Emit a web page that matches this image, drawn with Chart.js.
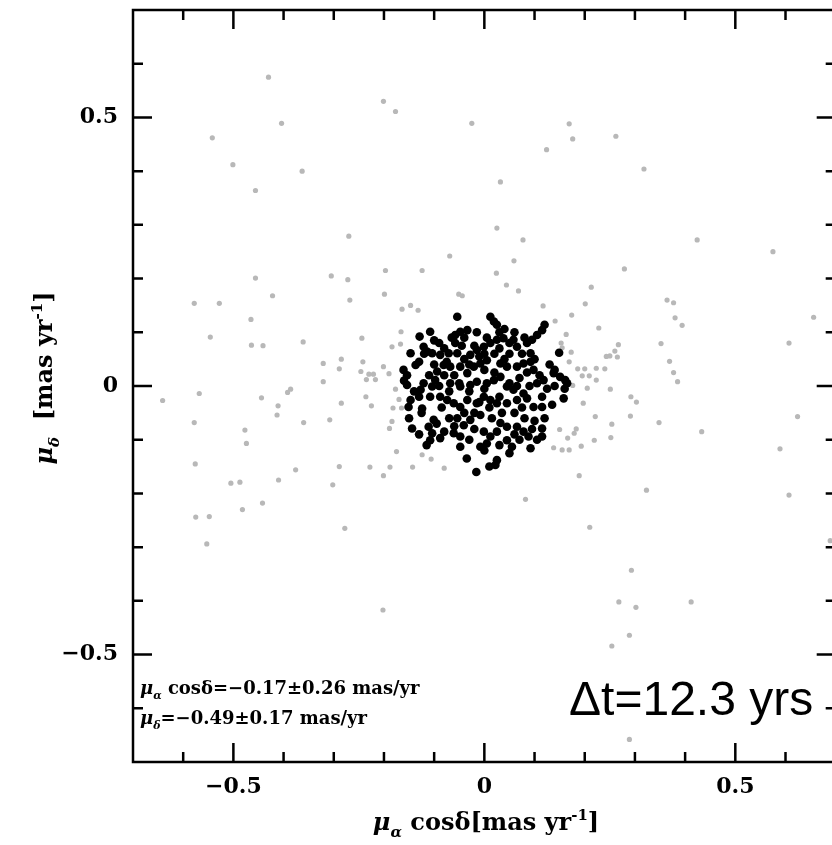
<!DOCTYPE html>
<html>
<head>
<meta charset="utf-8">
<script src="https://cdn.jsdelivr.net/npm/chart.js@4.4.1/dist/chart.umd.min.js"></script>
<style>
  html, body { margin: 0; padding: 0; background: #fff; overflow: hidden; }
  canvas { display: block; }
</style>
</head>
<body>
<canvas id="pmChart" width="840" height="845"></canvas>
<script>
// field stars (grey) - [mu_a cos(d), mu_d] in mas/yr
const fieldStars = [
  [-0.430, 0.575], [-0.201, 0.530], [-0.177, 0.511], [-0.025, 0.489], [-0.404, 0.489],
  [-0.542, 0.462], [-0.501, 0.412], [-0.363, 0.400], [-0.456, 0.364], [0.169, 0.488],
  [0.176, 0.460], [0.262, 0.465], [0.124, 0.440], [0.318, 0.404], [0.032, 0.380],
  [-0.270, 0.279], [-0.069, 0.242], [-0.197, 0.215], [-0.124, 0.215], [-0.456, 0.201],
  [-0.305, 0.205], [-0.272, 0.198], [-0.422, 0.168], [-0.268, 0.160], [-0.199, 0.171],
  [-0.051, 0.171], [-0.044, 0.168], [-0.578, 0.154], [-0.528, 0.154], [-0.465, 0.124],
  [-0.164, 0.143], [-0.147, 0.150], [-0.132, 0.141], [-0.546, 0.091], [-0.464, 0.076],
  [-0.441, 0.075], [-0.361, 0.082], [-0.244, 0.089], [-0.166, 0.101], [-0.167, 0.078],
  [-0.184, 0.073], [-0.321, 0.042], [-0.285, 0.050], [-0.289, 0.032], [-0.242, 0.045],
  [-0.201, 0.036], [-0.246, 0.027], [-0.230, 0.022], [-0.221, 0.022], [-0.235, 0.012],
  [-0.217, 0.012], [-0.190, 0.023], [-0.321, 0.008], [-0.386, -0.006], [-0.177, -0.006],
  [0.025, 0.294], [0.077, 0.272], [0.059, 0.233], [0.024, 0.210], [0.044, 0.188],
  [0.068, 0.177], [0.117, 0.149], [0.279, 0.218], [0.213, 0.184], [0.201, 0.153],
  [0.424, 0.272], [0.575, 0.250], [0.141, 0.121], [0.174, 0.132], [0.228, 0.108],
  [0.163, 0.096], [0.153, 0.080], [0.155, 0.071], [0.173, 0.063], [0.169, 0.045],
  [0.267, 0.077], [0.260, 0.065], [0.265, 0.054], [0.243, 0.055], [0.250, 0.056],
  [0.364, 0.160], [0.377, 0.155], [0.380, 0.127], [0.394, 0.113], [0.352, 0.079],
  [0.369, 0.046], [0.377, 0.025], [0.385, 0.008], [0.186, 0.032], [0.200, 0.032],
  [0.223, 0.033], [0.240, 0.032], [0.195, 0.019], [0.209, 0.019], [0.223, 0.011],
  [0.176, 0.001], [0.205, -0.004], [0.251, -0.006], [0.656, 0.128], [0.607, 0.080],
  [-0.641, -0.027], [-0.568, -0.014], [-0.444, -0.022], [-0.392, -0.012], [-0.411, -0.037],
  [-0.413, -0.054], [-0.236, -0.020], [-0.225, -0.037], [-0.285, -0.032], [-0.578, -0.068],
  [-0.477, -0.082], [-0.474, -0.107], [-0.360, -0.068], [-0.308, -0.063], [-0.170, -0.025],
  [-0.182, -0.041], [-0.165, -0.041], [-0.184, -0.066], [-0.189, -0.079], [-0.175, -0.122],
  [-0.124, -0.128], [-0.106, -0.136], [-0.080, -0.153], [-0.143, -0.151], [-0.188, -0.151],
  [-0.228, -0.151], [-0.289, -0.150], [-0.201, -0.167], [-0.376, -0.156], [-0.410, -0.175],
  [-0.505, -0.181], [-0.487, -0.179], [-0.576, -0.145], [-0.302, -0.184], [-0.442, -0.218],
  [-0.482, -0.230], [-0.575, -0.244], [-0.548, -0.243], [-0.553, -0.294], [-0.278, -0.265],
  [0.292, -0.020], [0.303, -0.030], [0.197, -0.032], [0.221, -0.057], [0.254, -0.071],
  [0.291, -0.056], [0.348, -0.068], [0.433, -0.085], [0.624, -0.057], [0.150, -0.081],
  [0.183, -0.080], [0.179, -0.088], [0.166, -0.097], [0.219, -0.101], [0.252, -0.096],
  [0.138, -0.115], [0.155, -0.119], [0.169, -0.119], [0.193, -0.112], [0.189, -0.167],
  [0.082, -0.211], [0.323, -0.194], [0.210, -0.263], [0.293, -0.343], [0.589, -0.117],
  [0.607, -0.203], [0.689, -0.288], [-0.202, -0.417], [0.268, -0.402], [0.302, -0.412],
  [0.412, -0.402], [0.289, -0.464], [0.254, -0.484], [0.289, -0.658]
];

// cluster members (black)
const clusterStars = [
  [-0.054, 0.129], [0.012, 0.129], [0.019, 0.120], [0.025, 0.114], [0.040, 0.106],
  [0.120, 0.114], [0.115, 0.104], [0.105, 0.095], [0.095, 0.086], [0.085, 0.080],
  [-0.108, 0.101], [-0.129, 0.092], [-0.058, 0.095], [-0.048, 0.101], [-0.034, 0.104],
  [-0.058, 0.080], [-0.121, 0.073], [-0.114, 0.064], [-0.104, 0.061], [-0.147, 0.061],
  [-0.088, 0.058], [-0.071, 0.061], [-0.054, 0.061], [-0.028, 0.058], [-0.015, 0.067],
  [-0.001, 0.073], [0.012, 0.080], [0.025, 0.086], [0.038, 0.089], [0.058, 0.086],
  [0.065, 0.073], [0.092, 0.061], [0.149, 0.062], [-0.161, 0.030], [-0.154, 0.020],
  [-0.137, 0.039], [-0.081, 0.039], [-0.068, 0.036], [-0.094, 0.027], [-0.098, 0.011],
  [-0.104, -0.001], [-0.121, 0.005], [-0.127, -0.007], [-0.154, 0.002], [-0.048, 0.036],
  [-0.034, 0.024], [-0.021, 0.036], [-0.008, 0.042], [0.005, 0.048], [0.032, 0.042],
  [0.045, 0.036], [0.065, 0.036], [0.078, 0.042], [0.092, 0.045], [0.098, 0.030],
  [0.138, 0.024], [0.151, 0.017], [0.161, 0.011], [0.118, 0.011], [-0.068, 0.005],
  [-0.048, -0.001], [-0.028, 0.002], [-0.015, 0.008], [0.005, 0.005], [0.019, 0.011],
  [0.032, 0.017], [0.045, -0.001], [0.058, -0.007], [0.078, -0.014], [0.085, -0.023],
  [0.115, -0.020], [0.158, -0.023], [-0.147, -0.026], [-0.151, -0.039], [-0.124, -0.042],
  [-0.108, -0.020], [-0.088, -0.020], [-0.074, -0.026], [-0.061, -0.032], [-0.048, -0.039],
  [-0.034, -0.026], [-0.015, -0.032], [-0.001, -0.020], [0.012, -0.026], [0.025, -0.032],
  [0.045, -0.032], [0.065, -0.026], [0.098, -0.039], [0.115, -0.039], [-0.101, -0.063],
  [-0.111, -0.076], [-0.104, -0.088], [-0.108, -0.101], [-0.144, -0.079], [-0.088, -0.097],
  [-0.054, -0.060], [-0.041, -0.073], [-0.028, -0.063], [-0.061, -0.088], [-0.048, -0.094],
  [-0.008, -0.054], [-0.001, -0.085], [0.012, -0.094], [0.025, -0.085], [0.032, -0.069],
  [0.045, -0.076], [0.065, -0.076], [0.078, -0.085], [0.088, -0.094], [0.115, -0.079],
  [0.115, -0.094], [-0.048, -0.113], [-0.008, -0.113], [0.005, -0.107], [0.045, -0.101],
  [0.055, -0.113], [0.092, -0.116], [0.025, -0.138], [0.022, -0.147], [-0.016, -0.160],
  [-0.130, 0.045], [-0.090, 0.080], [-0.075, 0.045], [-0.060, 0.020], [-0.040, 0.050],
  [-0.020, 0.075], [0.000, 0.030], [0.020, 0.060], [0.050, 0.060], [0.070, 0.015],
  [0.090, 0.000], [0.100, 0.050], [0.130, 0.040], [-0.085, -0.040], [-0.070, -0.060],
  [-0.020, -0.050], [0.000, -0.005], [0.035, -0.050], [0.060, -0.050], [0.080, -0.060],
  [0.100, -0.065], [-0.130, -0.020], [-0.110, 0.020], [-0.030, -0.010], [0.010, -0.040],
  [0.050, 0.005], [0.110, 0.020], [0.140, 0.000], [-0.040, 0.090], [0.060, 0.100],
  [-0.125, -0.050], [0.000, -0.120], [-0.030, -0.100], [0.070, -0.100], [-0.090, 0.000],
  [0.030, 0.070], [-0.160, 0.010], [-0.140, -0.010], [-0.120, 0.060], [-0.100, 0.040],
  [-0.080, 0.070], [-0.065, 0.090], [-0.045, 0.075], [-0.030, 0.040], [-0.010, 0.055],
  [0.005, 0.090], [0.030, 0.100], [0.050, 0.080], [0.075, 0.060], [0.085, 0.025],
  [0.105, 0.005], [0.125, -0.005], [0.140, 0.030], [0.160, -0.005], [0.165, 0.005],
  [-0.150, -0.060], [-0.130, -0.090], [-0.115, -0.110], [-0.095, -0.070], [-0.080, -0.085],
  [-0.060, -0.075], [-0.040, -0.050], [-0.020, -0.080], [-0.010, -0.030], [0.015, -0.060],
  [0.030, -0.110], [0.050, -0.125], [0.060, -0.090], [0.075, -0.040], [0.095, -0.080],
  [0.105, -0.100], [0.120, -0.060], [0.135, -0.035], [-0.070, -0.010], [-0.050, 0.005],
  [0.020, 0.025], [0.040, 0.050], [0.065, 0.000], [-0.015, 0.100], [-0.100, 0.085],
  [0.030, -0.020], [-0.080, 0.020], [0.000, 0.060], [0.010, -0.150], [-0.035, -0.135],
  [0.080, 0.090]
];

const axisMin = -0.7, axisMax = 0.7;
const majorTicks = [-0.5, 0, 0.5];
const minorTicks = [-0.6, -0.5, -0.4, -0.3, -0.2, -0.1, 0, 0.1, 0.2, 0.3, 0.4, 0.5, 0.6];

const serif = '"DejaVu Serif", serif';

// draws text made of pieces, some of them sub/superscript
function richText(ctx, parts, x, y, size, align) {
  const fontFor = p => (p.italic ? 'italic ' : '') + 'bold ' +
    (p.sub || p.sup ? Math.round(size * 0.62) : size) + 'px ' + serif;
  let w = 0;
  parts.forEach(p => { ctx.font = fontFor(p); w += ctx.measureText(p.t).width; });
  let cx = align === 'center' ? x - w / 2 : x;
  parts.forEach(p => {
    ctx.font = fontFor(p);
    const dy = p.sub ? size * 0.3 : p.sup ? -size * 0.42 : 0;
    ctx.fillText(p.t, cx, y + dy);
    cx += ctx.measureText(p.t).width;
  });
}

const framePlugin = {
  id: 'frame',
  afterDatasetsDraw(chart) {
    const { ctx, chartArea: a } = chart;
    const x = chart.scales.x, y = chart.scales.y;
    ctx.save();
    ctx.strokeStyle = '#000';
    ctx.lineWidth = 2.5;
    ctx.strokeRect(a.left, a.top, a.right - a.left, a.bottom - a.top);
    ctx.beginPath();
    minorTicks.forEach(v => {
      const len = majorTicks.includes(v) ? 19 : 10;
      const px = x.getPixelForValue(v);
      ctx.moveTo(px, a.bottom); ctx.lineTo(px, a.bottom - len);
      ctx.moveTo(px, a.top); ctx.lineTo(px, a.top + len);
      const py = y.getPixelForValue(v);
      ctx.moveTo(a.left, py); ctx.lineTo(a.left + len, py);
      ctx.moveTo(a.right, py); ctx.lineTo(a.right - len, py);
    });
    ctx.stroke();

    ctx.fillStyle = '#000';
    ctx.textBaseline = 'alphabetic';
    ctx.textAlign = 'left';

    // axis titles
    richText(ctx, [
      { t: 'μ', italic: true }, { t: 'α', sub: true, italic: true },
      { t: ' cosδ[mas yr' }, { t: '-1', sup: true }, { t: ']' }
    ], 486, 830, 24, 'center');

    ctx.save();
    ctx.translate(52, 378);
    ctx.rotate(-Math.PI / 2);
    richText(ctx, [
      { t: 'μ', italic: true }, { t: 'δ', sub: true, italic: true },
      { t: '  [mas yr' }, { t: '-1', sup: true }, { t: ']' }
    ], 0, 0, 24, 'center');
    ctx.restore();

    // fit results
    richText(ctx, [
      { t: 'μ', italic: true }, { t: 'α', sub: true, italic: true },
      { t: ' cosδ=−0.17±0.26 mas/yr' }
    ], 140, 694, 18, 'left');
    richText(ctx, [
      { t: 'μ', italic: true }, { t: 'δ', sub: true, italic: true },
      { t: '=−0.49±0.17 mas/yr' }
    ], 140, 724, 18, 'left');

    ctx.font = '48px "Liberation Sans", Arial, sans-serif';
    ctx.fillText('Δt=12.3 yrs', 569, 715);
    ctx.restore();
  }
};

const tickLabel = v => v === 0 ? '0' : (v < 0 ? '−' : '') + Math.abs(v);

new Chart(document.getElementById('pmChart'), {
  type: 'scatter',
  data: {
    datasets: [{
      label: 'cluster',
      data: clusterStars.map(p => ({ x: p[0], y: p[1] })),
      backgroundColor: '#000',
      borderWidth: 0,
      pointRadius: 4.3,
      order: 0
    }, {
      label: 'field',
      data: fieldStars.map(p => ({ x: p[0], y: p[1] })),
      backgroundColor: '#b8b8b8',
      borderWidth: 0,
      pointRadius: 2.6,
      order: 1
    }]
  },
  options: {
    responsive: false,
    animation: false,
    layout: { padding: { top: 10, right: 4, left: 0, bottom: 0 } },
    plugins: { legend: { display: false }, tooltip: { enabled: false } },
    scales: {
      x: {
        type: 'linear', min: axisMin, max: axisMax,
        grid: { display: false, drawTicks: false },
        border: { display: false },
        afterBuildTicks: s => { s.ticks = majorTicks.map(v => ({ value: v })); },
        afterFit: s => { s.height = 83; s.paddingLeft = 0; s.paddingRight = 0; },
        ticks: {
          padding: 12, color: '#000', maxRotation: 0,
          font: { family: serif, weight: 'bold', size: 22 },
          callback: tickLabel
        }
      },
      y: {
        type: 'linear', min: axisMin, max: axisMax,
        grid: { display: false, drawTicks: false },
        border: { display: false },
        afterBuildTicks: s => { s.ticks = majorTicks.map(v => ({ value: v })); },
        afterFit: s => { s.width = 133; s.paddingTop = 0; s.paddingBottom = 0; },
        ticks: {
          padding: 15, color: '#000',
          font: { family: serif, weight: 'bold', size: 22 },
          callback: tickLabel
        }
      }
    }
  },
  plugins: [framePlugin]
});
</script>
</body>
</html>
